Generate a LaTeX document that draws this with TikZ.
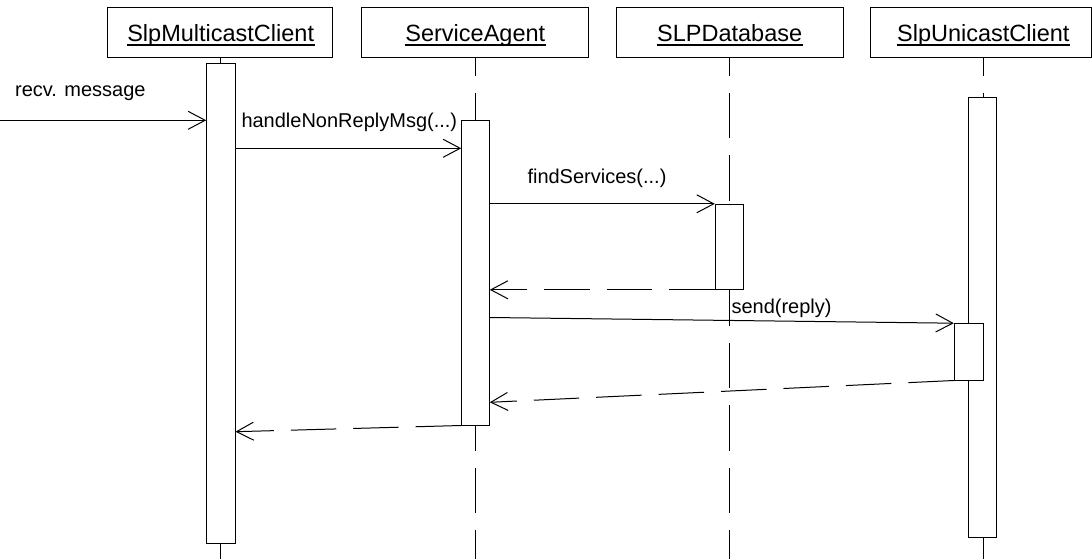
\documentclass[tikz,border=0pt]{standalone}
\usepackage{fontspec}
\setmainfont{Liberation Sans}
\usetikzlibrary{arrows.meta,fit}
\begin{document}
\begin{tikzpicture}[x=1pt,y=-1pt,line width=1pt,
  headbox/.style={draw, fill=white, inner sep=0pt},
  headtext/.style={font=\fontsize{23.5}{28}\selectfont, inner sep=0pt, anchor=base},
  lifeline/.style={dash pattern=on 45.5pt off 17pt, dash phase=27.8pt},
  actbox/.style={draw, fill=white, inner sep=0pt},
  msg/.style={-{Straight Barb[length=17pt,width=18pt]}},
  reply/.style={msg, dash pattern=on 45.5pt off 17pt},
  msglabel/.style={font=\fontsize{20}{24}\selectfont, inner sep=0pt, anchor=base west},
  uline/.style={line width=1.2pt}]
\useasboundingbox (0,0) rectangle (1092,559);

% object headers
\node[headbox, fit={(107.3,7.3) (332.3,57.7)}] (b1) {};
\node[headbox, fit={(361.7,7.3) (588.3,57.7)}] (b2) {};
\node[headbox, fit={(616,7.3) (843,57.7)}] (b3) {};
\node[headbox, fit={(870,7.3) (1091,57.7)}] (b4) {};

\node[headtext] (t1) at (220.7,41.7) {SlpMulticastClient};
\node[headtext] (t2) at (475.3,41.7) {ServiceAgent};
\node[headtext] (t3) at (729.7,41.7) {SLPDatabase};
\node[headtext] (t4) at (983.3,41.7) {SlpUnicastClient};
\foreach \t in {t1,t2,t3,t4}
  \draw[uline] ([yshift=-3.3pt]\t.base west) -- ([yshift=-3.3pt]\t.base east);

% lifelines
\coordinate (e1) at (220.7,559);
\coordinate (e2) at (475.3,559);
\coordinate (e3) at (729.7,559);
\coordinate (e4) at (983.3,559);
\draw[lifeline] (b1.south -| e1) -- (e1);
\draw[lifeline] (b2.south -| e2) -- (e2);
\draw[lifeline] (b3.south -| e3) -- (e3);
\draw[lifeline] (b4.south -| e4) -- (e4);

% activations
\node[actbox, fit={(206.7,64) (235,543.3)}] (a1) {};
\node[actbox, fit={(461.7,120.3) (489.3,425)}] (a2) {};
\node[actbox, fit={(715.3,204.3) (743.7,289.3)}] (a3) {};
\node[actbox, fit={(968,97.7) (996.7,537.7)}] (a4) {};
\node[actbox, fit={(954.3,323.7) (983,380)}] (a4b) {};

% messages
\coordinate (in) at (0,120.3);
\draw[msg] (in) -- (in -| a1.west);
\coordinate (y2) at (0,148.3);
\draw[msg] (y2 -| a1.east) -- (y2 -| a2.west);
\draw[msg] (a3.north west -| a2.east) -- (a3.north west);
\draw[reply] (a3.south west) -- (a3.south west -| a2.east);
\coordinate (y5) at (0,317.5);
\draw[msg] (y5 -| a2.east) -- (a4b.north west);
\coordinate (y6) at (0,402.3);
\draw[reply] (a4b.south west) -- (y6 -| a2.east);
\coordinate (y7) at (0,431.7);
\draw[reply] (a2.south west) -- (y7 -| a1.east);

% message labels
\node[msglabel] (l1) at (14.7,96.7) {recv. message};
\node[msglabel] (l2) at (241,127.3) {handleNonReplyMsg(...)};
\node[msglabel] (l3) at (527,183.3) {findServices(...)};
\node[msglabel] (l4) at (731,313.3) {send(reply)};
\end{tikzpicture}
\end{document}
